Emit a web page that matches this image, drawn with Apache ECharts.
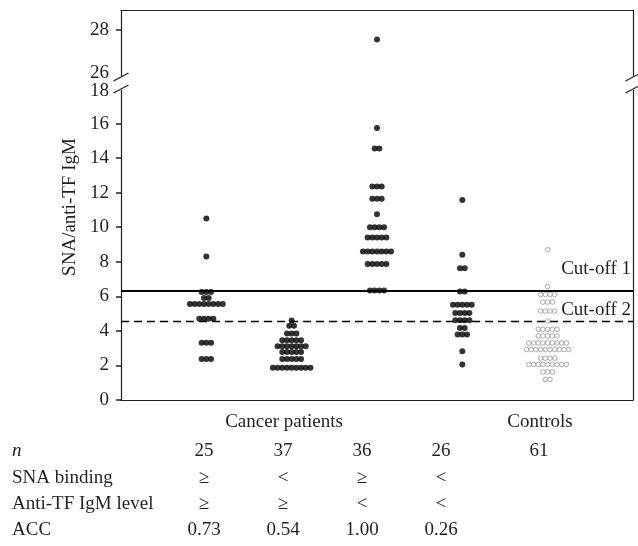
<!DOCTYPE html>
<html>
<head>
<meta charset="utf-8">
<style>html,body{margin:0;padding:0;background:#fff}#chart{width:638px;height:546px}</style>
<script src="https://cdn.jsdelivr.net/npm/echarts@6/dist/echarts.min.js"></script>
</head>
<body>
<div id="chart"></div>
<script>
// values, one entry per dot
var group1 = [10.5, 8.3, 6.25, 6.25, 6.25, 5.9, 5.9,
    5.55, 5.55, 5.55, 5.55, 5.55, 5.55, 5.55, 5.55,
    4.7, 4.7, 4.7, 4.7, 3.32, 3.32, 3.32, 2.38, 2.38, 2.38];
var group2 = [4.6, 4.3, 4.3, 3.85, 3.85, 3.85,
    3.46, 3.46, 3.46, 3.46, 3.46,
    3.11, 3.11, 3.11, 3.11, 3.11, 3.11, 3.11,
    2.78, 2.78, 2.78, 2.78, 2.78,
    2.38, 2.38, 2.38, 2.38, 2.38,
    1.86, 1.86, 1.86, 1.86, 1.86, 1.86, 1.86, 1.86, 1.86];
var group3 = [15.75, 14.55, 14.55, 12.35, 12.35, 12.35, 11.65, 11.65, 11.65, 10.75,
    10.0, 10.0, 10.0, 10.0, 9.4, 9.4, 9.4, 9.4, 9.4,
    8.6, 8.6, 8.6, 8.6, 8.6, 8.6, 8.6,
    7.87, 7.87, 7.87, 7.87, 7.87, 6.34, 6.34, 6.34, 6.34];
var group3Upper = [27.6];
var group4 = [11.57, 8.4, 7.63, 7.63, 6.28, 6.28,
    5.51, 5.51, 5.51, 5.51, 5.51, 5.03, 5.03, 5.03, 5.03,
    4.61, 4.61, 4.61, 4.61, 4.17, 4.17, 3.79, 3.79, 3.79, 2.82, 2.06];
var controls = [8.7, 6.57, 6.11, 6.11, 6.11, 6.11, 5.67, 5.67, 5.67,
    5.15, 5.15, 5.15, 5.15, 4.57,
    4.09, 4.09, 4.09, 4.09, 4.09, 3.71, 3.71, 3.71, 3.71, 3.71,
    3.3, 3.3, 3.3, 3.3, 3.3, 3.3, 3.3, 3.3, 3.3,
    2.92, 2.92, 2.92, 2.92, 2.92, 2.92, 2.92, 2.92, 2.92, 2.92,
    2.42, 2.42, 2.42, 2.42,
    2.06, 2.06, 2.06, 2.06, 2.06, 2.06, 2.06, 2.06, 2.06,
    1.63, 1.63, 1.63, 1.19, 1.19];

var cutoff1 = 6.32;
var cutoff2 = 4.55;

var lowerTicks = [0, 2, 4, 6, 8, 10, 12, 14, 16];
var lowerLabels = [0, 2, 4, 6, 8, 10, 12, 14, 16, 18];
var upperTicks = [28];
var upperLabels = [26, 28];

var rowNames = ['n', 'SNA binding', 'Anti-TF IgM level', 'ACC'];
var nRow = ['25', '37', '36', '26', '61'];
var snaRow = ['≥', '<', '≥', '<'];
var antiRow = ['≥', '≥', '<', '<'];
var accRow = ['0.73', '0.54', '1.00', '0.26'];

var FONT = 'Liberation Serif';
var INK = '#231f20';
var STEP = 0.055;

// spread equal values side by side, like a dot plot
function swarm(values, center) {
    var total = {}, seen = {};
    values.forEach(function (v) { total[v] = (total[v] || 0) + 1; });
    return values.map(function (v) {
        var i = seen[v] || 0;
        seen[v] = i + 1;
        return [center + (i - (total[v] - 1) / 2) * STEP, v];
    });
}

var filled = {color: '#000'};
var hollow = {color: '#fff', borderColor: '#8a8a8a', borderWidth: 0.9};

var L = 121, R = 633, upTop = 10, upBot = 77, loTop = 89, loBot = 400;

function txt(x, y, s, align, extra) {
    var st = {text: s, x: 0, y: 0, fill: INK, font: '19px "' + FONT + '"', align: align || 'center', verticalAlign: 'middle'};
    if (extra) for (var k in extra) st[k] = extra[k];
    return {type: 'text', x: x, y: y, style: st, silent: true};
}
function seg(x1, y1, x2, y2, w) {
    return {type: 'line', shape: {x1: x1, y1: y1, x2: x2, y2: y2}, style: {stroke: INK, lineWidth: w || 1.2}, silent: true};
}

var graphics = [];
graphics.push(txt(70, 207, 'SNA/anti-TF IgM', 'center', {}));
graphics[0].rotation = Math.PI / 2;
graphics.push(txt(284, 422, 'Cancer patients'));
graphics.push(txt(540, 422, 'Controls'));
var colX = [204, 283, 362, 441, 539];
var rowY = [451, 478, 504, 530];
rowNames.forEach(function (name, i) {
    graphics.push(txt(12, rowY[i], name, 'left', i === 0 ? {font: 'italic 19px "' + FONT + '"'} : null));
});
[nRow, snaRow, antiRow, accRow].forEach(function (row, i) {
    row.forEach(function (s, j) { graphics.push(txt(colX[j], rowY[i], s)); });
});
// axis break marks and the short bits of frame between the two panels
[L, R].forEach(function (x) {
    graphics.push(seg(x, upBot, x, loTop));
    graphics.push({type: 'rect', shape: {x: x - 2, y: upBot - 1, width: 4, height: loTop - upBot + 2}, style: {fill: '#fff'}, silent: true, z: 9});
    graphics.push(seg(x, upBot - 1, x, upBot + 2));
    graphics.push(seg(x, loTop - 2, x, loTop + 1));
    var a = seg(x - 7.5, upBot + 4, x + 7.5, upBot - 4);
    var b = seg(x - 7.5, loTop + 4, x + 7.5, loTop - 4);
    a.z = b.z = 10;
    graphics.push(a, b);
});

function yAx(grid, min, max, ticks, labels, pos) {
    var left = pos !== 'right';
    return {
        type: 'value', gridIndex: grid, min: min, max: max, interval: 2, position: pos || 'left',
        splitLine: {show: false},
        axisLine: {show: true, lineStyle: {color: INK, width: 1.2}},
        axisTick: {show: left, inside: false, length: 5, customValues: ticks, lineStyle: {color: INK, width: 1.5}},
        axisLabel: {
            show: left, margin: 12, customValues: labels, color: INK, fontFamily: FONT, fontSize: 19,
            // nudge the two labels at the break apart
            formatter: function (v) {
                if (v === 26) return '{up|26}';
                if (v === 18) return '{dn|18}';
                return v;
            },
            rich: {
                up: {fontFamily: FONT, fontSize: 19, color: INK, padding: [0, 0, 7, 0]},
                dn: {fontFamily: FONT, fontSize: 19, color: INK, padding: [5, 0, 0, 0]}
            }
        }
    };
}
function xAx(grid, pos) {
    return {
        type: 'value', gridIndex: grid, min: 0, max: 6, position: pos,
        splitLine: {show: false}, axisTick: {show: false}, axisLabel: {show: false},
        axisLine: {show: true, onZero: false, lineStyle: {color: INK, width: 1.2}}
    };
}

var chart = echarts.init(document.getElementById('chart'));
chart.setOption({
    animation: false,
    grid: [
        {left: L, right: 638 - R, top: upTop, height: upBot - upTop},
        {left: L, right: 638 - R, top: loTop, height: loBot - loTop}
    ],
    xAxis: [xAx(0, 'top'), xAx(1, 'bottom')],
    yAxis: [
        yAx(0, 26, 28.85, upperTicks, upperLabels),
        yAx(1, 0, 18, lowerTicks, lowerLabels),
        yAx(0, 26, 28.85, [], [], 'right'),
        yAx(1, 0, 18, [], [], 'right')
    ],
    series: [
        {type: 'scatter', xAxisIndex: 1, yAxisIndex: 1, data: swarm(group1, 1), symbol: 'circle', symbolSize: 6, itemStyle: filled,
            markLine: {
                silent: true, symbol: 'none',
                label: {position: 'insideEndTop', color: INK, fontFamily: FONT, fontSize: 19},
                data: [
                    {yAxis: cutoff1, lineStyle: {color: '#000', type: 'solid', width: 2.2}, label: {formatter: 'Cut-off 1', distance: [2, 12]}},
                    {yAxis: cutoff2, lineStyle: {color: '#000', type: [8, 5], width: 1.3}, label: {formatter: 'Cut-off 2', distance: [2, 2]}}
                ]
            }},
        {type: 'scatter', xAxisIndex: 1, yAxisIndex: 1, data: swarm(group2, 2), symbol: 'circle', symbolSize: 6, itemStyle: filled},
        {type: 'scatter', xAxisIndex: 1, yAxisIndex: 1, data: swarm(group3, 3), symbol: 'circle', symbolSize: 6, itemStyle: filled},
        {type: 'scatter', xAxisIndex: 0, yAxisIndex: 0, data: swarm(group3Upper, 3), symbol: 'circle', symbolSize: 6, itemStyle: filled},
        {type: 'scatter', xAxisIndex: 1, yAxisIndex: 1, data: swarm(group4, 4), symbol: 'circle', symbolSize: 6, itemStyle: filled},
        {type: 'scatter', xAxisIndex: 1, yAxisIndex: 1, data: swarm(controls, 5), symbol: 'circle', symbolSize: 4.6, itemStyle: hollow}
    ],
    graphic: graphics
});
</script>
</body>
</html>
